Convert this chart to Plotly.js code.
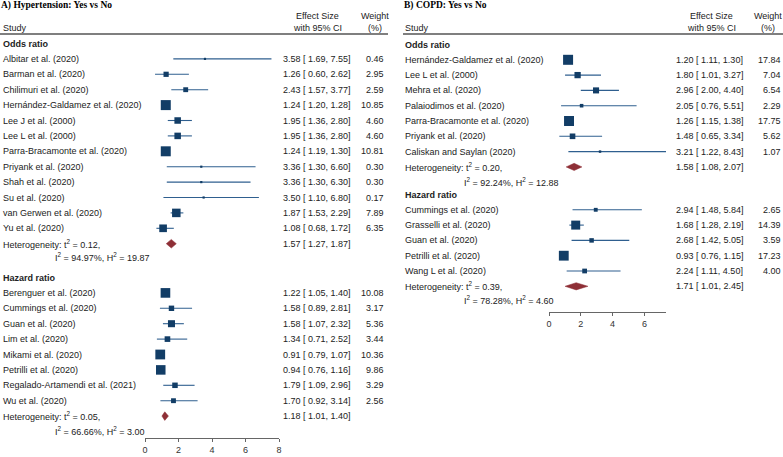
<!DOCTYPE html>
<html><head><meta charset="utf-8">
<script src="https://cdn.plot.ly/plotly-3.0.1.min.js"></script>
<style>html,body{margin:0;padding:0;background:#fff}#c{width:783px;height:457px}</style>
</head><body><div id="c"></div>
<script>
// ---------- Data: A) Hypertension ----------
const hypORStudies = ["Albitar et al. (2020)","Barman et al. (2020)","Chilimuri et al. (2020)","Hernández-Galdamez et al. (2020)","Lee J et al. (2000)","Lee L et al. (2000)","Parra-Bracamonte et al. (2020)","Priyank et al. (2020)","Shah et al. (2020)","Su et al. (2020)","van Gerwen et al. (2020)","Yu et al. (2020)"];
const hypOREs = [3.58,1.26,2.43,1.24,1.95,1.95,1.24,3.36,3.36,3.50,1.87,1.08];
const hypORLo = [1.69,0.60,1.57,1.20,1.36,1.36,1.19,1.30,1.30,1.10,1.53,0.68];
const hypORHi = [7.55,2.62,3.77,1.28,2.80,2.80,1.30,6.60,6.30,6.80,2.29,1.72];
const hypORW  = [0.46,2.95,2.59,10.85,4.60,4.60,10.81,0.30,0.30,0.17,7.89,6.35];
const hypORPool = [1.57,1.27,1.87];
const hypORHet = ["0.12","94.97","19.87"];

const hypHRStudies = ["Berenguer et al. (2020)","Cummings et al. (2020)","Guan et al. (2020)","Lim et al. (2020)","Mikami et al. (2020)","Petrilli et al. (2020)","Regalado-Artamendi et al. (2021)","Wu et al. (2020)"];
const hypHREs = [1.22,1.58,1.58,1.34,0.91,0.94,1.79,1.70];
const hypHRLo = [1.05,0.89,1.07,0.71,0.79,0.76,1.09,0.92];
const hypHRHi = [1.40,2.81,2.32,2.52,1.07,1.16,2.96,3.14];
const hypHRW  = [10.08,3.17,5.36,3.44,10.36,9.86,3.29,2.56];
const hypHRPool = [1.18,1.01,1.40];
const hypHRHet = ["0.05","66.66","3.00"];

// ---------- Data: B) COPD ----------
const copdORStudies = ["Hernández-Galdamez et al. (2020)","Lee L et al. (2000)","Mehra et al. (2020)","Palaiodimos et al. (2020)","Parra-Bracamonte et al. (2020)","Priyank et al. (2020)","Caliskan and Saylan (2020)"];
const copdOREs = [1.20,1.80,2.96,2.05,1.26,1.48,3.21];
const copdORLo = [1.11,1.01,2.00,0.76,1.15,0.65,1.22];
const copdORHi = [1.30,3.27,4.40,5.51,1.38,3.34,8.43];
const copdORW  = [17.84,7.04,6.54,2.29,17.75,5.62,1.07];
const copdORPool = [1.58,1.08,2.07];
const copdORHet = ["0.20","92.24","12.88"];

const copdHRStudies = ["Cummings et al. (2020)","Grasselli et al. (2020)","Guan et al. (2020)","Petrilli et al. (2020)","Wang L et al. (2020)"];
const copdHREs = [2.94,1.68,2.68,0.93,2.24];
const copdHRLo = [1.48,1.28,1.42,0.76,1.11];
const copdHRHi = [5.84,2.19,5.05,1.15,4.50];
const copdHRW  = [2.65,14.39,3.59,17.23,4.00];
const copdHRPool = [1.71,1.01,2.45];
const copdHRHet = ["0.39","78.28","4.60"];

const xTicksA = [0,2,4,6,8];
const xTicksB = [0,2,4,6];

// ---------- Layout helpers ----------
const W = 783, H = 457;
const SANS = "Liberation Sans, Arial, sans-serif";
const SERIF = "Liberation Serif, Times New Roman, serif";
const NAVY = "#123d66", LINE = "#2f5f8f", MAROON = "#8e2f36", TXT = "#222";
const f2 = v => v.toFixed(2);

const traces = [], annotations = [], shapes = [];
function txt(x, y, text, o) {
  return Object.assign({xref:'paper', yref:'y', x:x/W, y:y, text:text, showarrow:false,
    xanchor:'left', yanchor:'middle', borderpad:0,
    font:{family:SANS, size:9, color:TXT}}, o || {});
}

function panel(cfg) {
  const ax = cfg.xaxis;
  const allW = [].concat(...cfg.sections.map(s => s.w));
  const maxW = Math.max(...allW);
  cfg.sections.forEach(sec => {
    const y0 = sec.top;
    annotations.push(txt(cfg.studyX, y0, "<b>" + sec.label + "</b>"));
    const lx = [], ly = [], mx = [], my = [], ms = [];
    sec.names.forEach((nm, i) => {
      const y = y0 + (i + 1) * cfg.step;
      lx.push(sec.lo[i], sec.hi[i], null); ly.push(y, y, null);
      mx.push(sec.es[i]); my.push(y); ms.push(Math.max(2.2, 10 * Math.sqrt(sec.w[i] / maxW)));
      annotations.push(txt(cfg.studyX, y, nm));
      annotations.push(txt(cfg.esX, y, f2(sec.es[i]) + " [ " + f2(sec.lo[i]) + ", " + f2(sec.hi[i]) + "]"));
      annotations.push(txt(cfg.wX, y, f2(sec.w[i]), {xanchor:'right'}));
    });
    traces.push({type:'scatter', mode:'lines', x:lx, y:ly, xaxis:ax, yaxis:'y',
      line:{color:LINE, width:1.1}, hoverinfo:'skip', showlegend:false});
    traces.push({type:'scatter', mode:'markers', x:mx, y:my, xaxis:ax, yaxis:'y',
      marker:{symbol:'square', size:ms, color:NAVY, opacity:1, line:{width:0}}, showlegend:false, cliponaxis:false});
    const yh = y0 + (sec.names.length + 1) * cfg.step;
    const p = sec.pool, hh = cfg.diamondH;
    traces.push({type:'scatter', mode:'lines', fill:'toself', fillcolor:MAROON,
      x:[p[1], p[0], p[2], p[0], p[1]], y:[yh, yh - hh, yh, yh + hh, yh], xaxis:ax, yaxis:'y',
      line:{color:MAROON, width:0.5}, hoverinfo:'skip', showlegend:false});
    annotations.push(txt(cfg.studyX, yh, "Heterogeneity: t<sup>2</sup> = " + sec.het[0] + ","));
    annotations.push(txt(cfg.studyX + cfg.i2Off, yh + sec.i2Gap,
      "I<sup>2</sup> = " + sec.het[1] + "%, H<sup>2</sup> = " + sec.het[2]));
    annotations.push(txt(cfg.esX, yh, f2(p[0]) + " [ " + f2(p[1]) + ", " + f2(p[2]) + "]"));
  });
  // headers
  annotations.push(txt(cfg.titleX, 5, "<b>" + cfg.title + "</b>", {font:{family:SERIF, size:9.5, color:'#000'}}));
  annotations.push(txt(cfg.studyX, 27.5, "Study"));
  annotations.push(txt(cfg.esC, 16, "Effect Size", {xanchor:'center'}));
  annotations.push(txt(cfg.esC, 27.5, "with 95% CI", {xanchor:'center'}));
  annotations.push(txt(cfg.wC, 16, "Weight", {xanchor:'center'}));
  annotations.push(txt(cfg.wC, 27.5, "(%)", {xanchor:'center'}));
  shapes.push({type:'line', xref:'paper', yref:'y', x0:cfg.hl[0]/W, x1:cfg.hl[1]/W, y0:34, y1:34,
    line:{color:'#555', width:1.5}});
}

panel({xaxis:'x', title:"A) Hypertension: Yes vs No", titleX:0, studyX:2, esX:282, wX:385, esC:317, wC:375,
  step:15.4, diamondH:4.3, i2Off:52, hl:[0,388],
  sections:[
    {label:"Odds ratio", top:43.5, names:hypORStudies, es:hypOREs, lo:hypORLo, hi:hypORHi, w:hypORW, pool:hypORPool, het:hypORHet, i2Gap:13.5},
    {label:"Hazard ratio", top:277.5, names:hypHRStudies, es:hypHREs, lo:hypHRLo, hi:hypHRHi, w:hypHRW, pool:hypHRPool, het:hypHRHet, i2Gap:14.5}
  ]});

panel({xaxis:'x2', title:"B) COPD: Yes vs No", titleX:403, studyX:404, esX:675, wX:782, esC:711, wC:768,
  step:15.3, diamondH:3.6, i2Off:59, hl:[403,783],
  sections:[
    {label:"Odds ratio", top:44.5, names:copdORStudies, es:copdOREs, lo:copdORLo, hi:copdORHi, w:copdORW, pool:copdORPool, het:copdORHet, i2Gap:15},
    {label:"Hazard ratio", top:194.5, names:copdHRStudies, es:copdHREs, lo:copdHRLo, hi:copdHRHi, w:copdHRW, pool:copdHRPool, het:copdHRHet, i2Gap:14}
  ]});

const axCommon = {showgrid:false, zeroline:false, showline:true, linecolor:'#666', linewidth:1,
  ticks:'outside', ticklen:3, tickcolor:'#666', tickfont:{family:SANS, size:9, color:'#333'},
  anchor:'free', fixedrange:true};

const layout = {
  width:W, height:H, margin:{l:0, r:0, t:0, b:0}, paper_bgcolor:'#fff', plot_bgcolor:'rgba(0,0,0,0)',
  showlegend:false,
  xaxis:Object.assign({}, axCommon, {domain:[145/W, 279/W], range:[0,8], tickvals:xTicksA, position:1 - 438/H}),
  xaxis2:Object.assign({}, axCommon, {domain:[549/W, 666/W], range:[0,7.36], tickvals:xTicksB, position:1 - 312/H}),
  yaxis:{domain:[0,1], range:[H,0], visible:false, fixedrange:true},
  annotations:annotations, shapes:shapes
};

Plotly.newPlot('c', traces, layout, {staticPlot:true, displayModeBar:false});
</script>
</body></html>
